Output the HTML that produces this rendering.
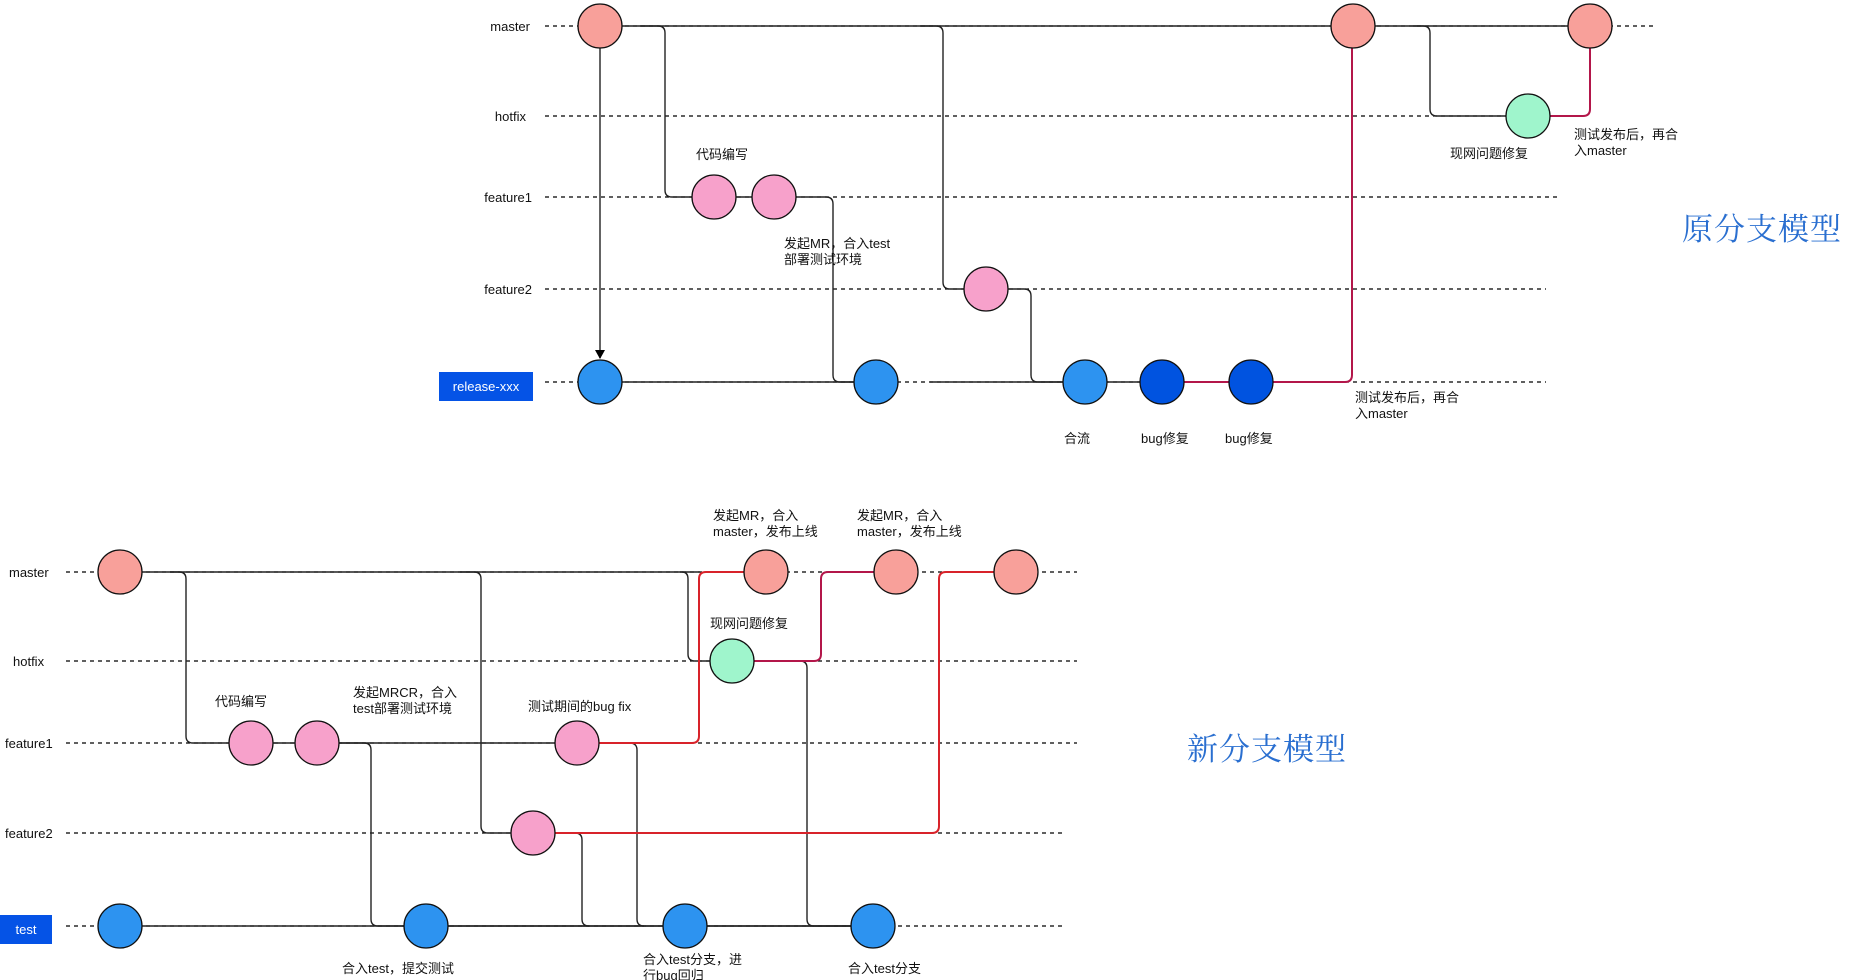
<!DOCTYPE html>
<html><head><meta charset="utf-8"><style>
html,body{margin:0;padding:0;background:#fff;}
svg{display:block;}
text{font-family:"Liberation Sans","Noto Sans CJK SC",sans-serif;font-size:13px;fill:#111;}
.t{font-family:"Noto Serif CJK SC","Liberation Serif",serif;font-size:31px;fill:#2a6fd0;letter-spacing:1px;}
</style></head><body>
<svg width="1860" height="980" viewBox="0 0 1860 980" xmlns="http://www.w3.org/2000/svg">
<defs><marker id="ar" markerWidth="10" markerHeight="10" refX="8" refY="5" orient="auto" markerUnits="userSpaceOnUse"><path d="M0,0 L9,5 L0,10 Z" fill="#000"/></marker></defs>
<g fill="none" stroke="#000" stroke-width="1.2" stroke-dasharray="4,4">
<line x1="545" y1="26" x2="1655" y2="26"/>
<line x1="545" y1="116" x2="1508" y2="116"/>
<line x1="545" y1="197" x2="1558" y2="197"/>
<line x1="545" y1="289" x2="1546" y2="289"/>
<line x1="545" y1="382" x2="1546" y2="382"/>
<line x1="66" y1="572" x2="1077" y2="572"/>
<line x1="66" y1="661" x2="1077" y2="661"/>
<line x1="66" y1="743" x2="1077" y2="743"/>
<line x1="66" y1="833" x2="1065" y2="833"/>
<line x1="66" y1="926" x2="1065" y2="926"/>
</g>
<g fill="none" stroke="#222" stroke-width="1.4" stroke-linejoin="round">
<line x1="600" y1="26" x2="1590" y2="26"/>
<path d="M640,26 H658 Q665,26 665,33 V190 Q665,197 672,197 H774"/>
<path d="M774,197 H826 Q833,197 833,204 V375 Q833,382 840,382 H876"/>
<line x1="600" y1="382" x2="876" y2="382"/>
<line x1="930" y1="382" x2="1085" y2="382"/>
<path d="M920,26 H936 Q943,26 943,33 V282 Q943,289 950,289 H986"/>
<path d="M986,289 H1024 Q1031,289 1031,296 V375 Q1031,382 1038,382 H1162"/>
<path d="M1413,26 H1423 Q1430,26 1430,33 V109 Q1430,116 1437,116 H1528"/>
<line x1="600" y1="48" x2="600" y2="358" marker-end="url(#ar)"/>
<line x1="120" y1="572" x2="700" y2="572"/>
<path d="M170,572 H179 Q186,572 186,579 V736 Q186,743 193,743 H577"/>
<path d="M317,743 H364 Q371,743 371,750 V919 Q371,926 378,926 H873"/>
<line x1="120" y1="926" x2="873" y2="926"/>
<path d="M460,572 H474 Q481,572 481,579 V826 Q481,833 488,833 H533"/>
<path d="M533,833 H575 Q582,833 582,840 V919 Q582,926 589,926"/>
<path d="M577,743 H630 Q637,743 637,750 V919 Q637,926 644,926"/>
<path d="M680,572 H682 Q688,572 688,579 V654 Q688,661 695,661 H732"/>
<path d="M732,661 H800 Q807,661 807,668 V919 Q807,926 814,926 H873"/>
</g>
<g fill="none" stroke="#b3164a" stroke-width="2" stroke-linejoin="round">
<path d="M1162,382 H1345 Q1352,382 1352,375 V26"/>
<path d="M1528,116 H1583 Q1590,116 1590,109 V26"/>
<path d="M732,661 H814 Q821,661 821,654 V579 Q821,572 828,572 H896"/>
</g>
<g fill="none" stroke="#d8232a" stroke-width="2" stroke-linejoin="round">
<path d="M577,743 H692 Q699,743 699,736 V579 Q699,572 706,572 H766"/>
<path d="M533,833 H932 Q939,833 939,826 V579 Q939,572 946,572 H1016"/>
</g>
<g stroke="#111" stroke-width="1.3">
<circle cx="600" cy="26" r="22" fill="#f8a09a"/>
<circle cx="1353" cy="26" r="22" fill="#f8a09a"/>
<circle cx="1590" cy="26" r="22" fill="#f8a09a"/>
<circle cx="1528" cy="116" r="22" fill="#9ff5cc"/>
<circle cx="714" cy="197" r="22" fill="#f7a1cb"/>
<circle cx="774" cy="197" r="22" fill="#f7a1cb"/>
<circle cx="986" cy="289" r="22" fill="#f7a1cb"/>
<circle cx="600" cy="382" r="22" fill="#2d93f0"/>
<circle cx="876" cy="382" r="22" fill="#2d93f0"/>
<circle cx="1085" cy="382" r="22" fill="#2d93f0"/>
<circle cx="1162" cy="382" r="22" fill="#0053e0"/>
<circle cx="1251" cy="382" r="22" fill="#0053e0"/>
<circle cx="120" cy="572" r="22" fill="#f8a09a"/>
<circle cx="766" cy="572" r="22" fill="#f8a09a"/>
<circle cx="896" cy="572" r="22" fill="#f8a09a"/>
<circle cx="1016" cy="572" r="22" fill="#f8a09a"/>
<circle cx="732" cy="661" r="22" fill="#9ff5cc"/>
<circle cx="251" cy="743" r="22" fill="#f7a1cb"/>
<circle cx="317" cy="743" r="22" fill="#f7a1cb"/>
<circle cx="577" cy="743" r="22" fill="#f7a1cb"/>
<circle cx="533" cy="833" r="22" fill="#f7a1cb"/>
<circle cx="120" cy="926" r="22" fill="#2d93f0"/>
<circle cx="426" cy="926" r="22" fill="#2d93f0"/>
<circle cx="685" cy="926" r="22" fill="#2d93f0"/>
<circle cx="873" cy="926" r="22" fill="#2d93f0"/>
</g>
<rect x="439" y="372" width="94" height="29" fill="#0553e6"/>
<text x="486" y="391" text-anchor="middle" style="fill:#fff">release-xxx</text>
<rect x="0" y="915" width="52" height="29" fill="#0553e6"/>
<text x="26" y="934" text-anchor="middle" style="fill:#fff">test</text>
<g text-anchor="end">
<text x="530" y="31">master</text>
<text x="526" y="121">hotfix</text>
<text x="532" y="202">feature1</text>
<text x="532" y="294">feature2</text>
</g>
<text x="9" y="577">master</text>
<text x="13" y="666">hotfix</text>
<text x="5" y="748">feature1</text>
<text x="5" y="838">feature2</text>
<text x="696" y="159">代码编写</text>
<text x="784" y="248">发起MR，合入test</text>
<text x="784" y="264">部署测试环境</text>
<text x="1064" y="443">合流</text>
<text x="1141" y="443">bug修复</text>
<text x="1225" y="443">bug修复</text>
<text x="1355" y="402">测试发布后，再合</text>
<text x="1355" y="418">入master</text>
<text x="1450" y="158">现网问题修复</text>
<text x="1574" y="139">测试发布后，再合</text>
<text x="1574" y="155">入master</text>
<text class="t" x="1682" y="240">原分支模型</text>
<text class="t" x="1187" y="760">新分支模型</text>
<text x="713" y="520">发起MR，合入</text>
<text x="713" y="536">master，发布上线</text>
<text x="857" y="520">发起MR，合入</text>
<text x="857" y="536">master，发布上线</text>
<text x="710" y="628">现网问题修复</text>
<text x="215" y="706">代码编写</text>
<text x="353" y="697">发起MRCR，合入</text>
<text x="353" y="713">test部署测试环境</text>
<text x="528" y="711">测试期间的bug fix</text>
<text x="342" y="973">合入test，提交测试</text>
<text x="643" y="964">合入test分支，进</text>
<text x="643" y="980">行bug回归</text>
<text x="848" y="973">合入test分支</text>
</svg>
</body></html>
